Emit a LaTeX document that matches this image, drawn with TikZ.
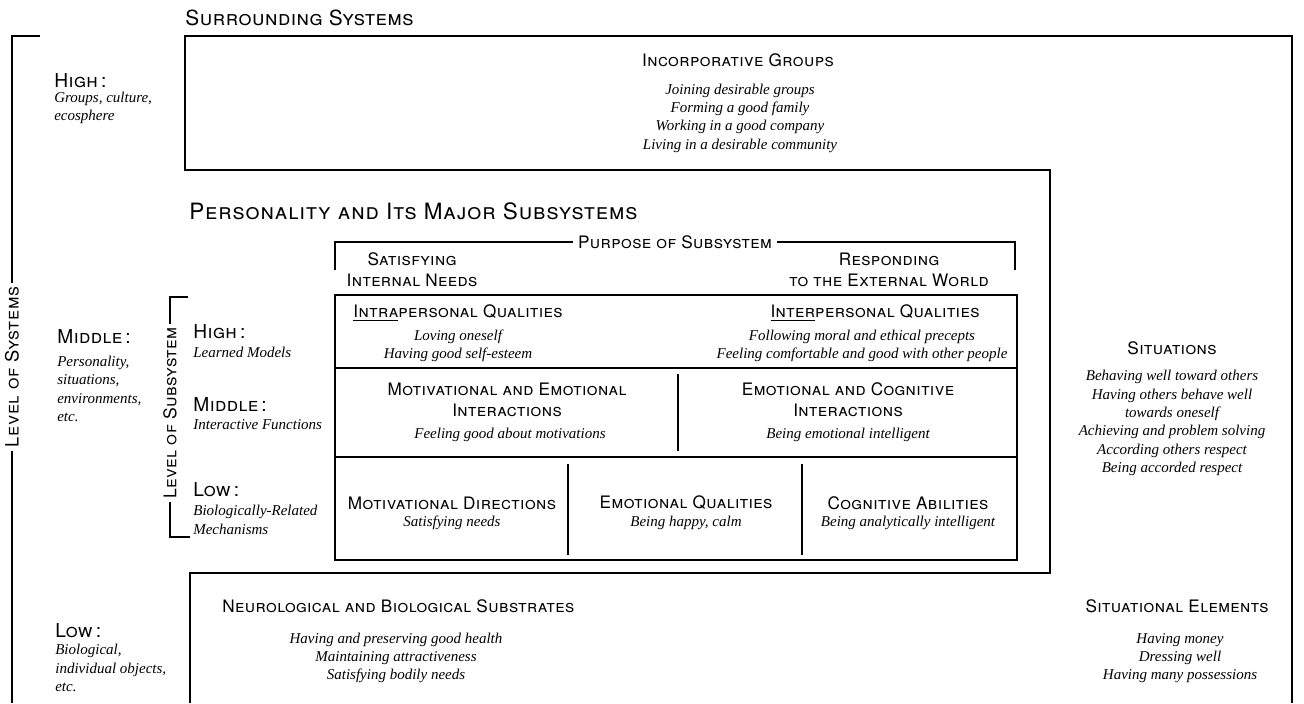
\documentclass[tikz,border=0pt]{standalone}
\usepackage{fontspec}
\newfontfamily\heros{TeX Gyre Heros}[LetterSpace=2.5]
\newfontfamily\heroswide{TeX Gyre Heros}[LetterSpace=4]
\newfontfamily\tnr{Liberation Serif}
\usepackage{tikz}
\usetikzlibrary{positioning}

\begin{document}
\begin{tikzpicture}[x = .6pt, y = -.6pt,
  frame/.style = {line width = 1.7pt},
  grid/.style = {line width = 1.2pt},
  brk/.style = {line width = .8pt},
  title/.style = {anchor = west, inner sep = 0pt, font = \heros\scshape\fontsize{12.5}{15}\selectfont},
  head/.style = {align = center, font = \heros\scshape\fontsize{10.3}{12.5}\selectfont},
  lvl/.style = {anchor = west, inner sep = 0pt, align = left, font = \heros\scshape\fontsize{11.5}{13}\selectfont},
  ital/.style = {align = center, font = \tnr\itshape\fontsize{9}{11}\selectfont},
  itl/.style = {anchor = west, inner sep = 0pt, align = left, font = \tnr\itshape\fontsize{9}{11}\selectfont},
  rot/.style = {rotate = 90, fill = white, inner sep = 2pt, font = \heroswide\scshape\fontsize{11}{13}\selectfont}]
\useasboundingbox (0,0) rectangle (1304,703);

% outer frames
\draw[frame] (190,703) -- (190,573) -- (1050,573) -- (1050,170) -- (185,170)
  -- (185,36) -- (1292,36) -- (1292,703);

% titles
\node[title] (surr) at (185,18) {Surrounding Systems};
\node[title, font = \heroswide\scshape\fontsize{13.5}{16}\selectfont] (pers) at (189,211) {Personality and Its Major Subsystems};

% level of systems
\node[rot] (lvlsys) at (12,367) {Level of Systems};
\draw[brk] (40,36) -- (12,36) -- (lvlsys.east);
\draw[brk] (lvlsys.west) -- (12,703);
\node[lvl] (hiS) at (54,81) {High\,:};
\node[itl] (hiSt) at (54,108) {Groups, culture,\\ecosphere};
\node[lvl] (midS) at (57,337) {Middle\,:};
\node[itl] (midSt) at (57,389) {Personality,\\situations,\\environments,\\etc.};
\node[lvl] (lowS) at (55,631) {Low\,:};
\node[itl] (lowSt) at (55,668) {Biological,\\individual objects,\\etc.};

% level of subsystem
\node[rot, font = \heros\scshape\fontsize{10.5}{13}\selectfont] (lvlsub) at (170,413) {Level of Subsystem};
\draw[brk] (188,297) -- (170,297) -- (lvlsub.east);
\draw[brk] (lvlsub.west) -- (170,537) -- (190,537);
\node[lvl] (hiB) at (193,332) {High\,:};
\node[itl] (hiBt) at (193,352) {Learned Models};
\node[lvl] (midB) at (193,405) {Middle\,:};
\node[itl] (midBt) at (193,425) {Interactive Functions};
\node[lvl] (lowB) at (193,490) {Low\,:};
\node[itl] (lowBt) at (193,520) {Biologically-Related\\Mechanisms};

% incorporative groups
\node[head] (incorp) at (738,60) {Incorporative Groups};
\node[ital] (incorpT) at (740,118) {Joining desirable groups\\Forming a good family\\Working in a good company\\Living in a desirable community};

% purpose of subsystem
\node[head, fill = white, inner sep = 3pt] (purp) at (675,242) {Purpose of Subsystem};
\draw[brk] (335,270) -- (335,242) -- (purp.west);
\draw[brk] (purp.east) -- (1015,242) -- (1015,270);
\node[head] (intn) at (412,270) {Satisfying\\Internal Needs};
\node[head] (extw) at (889,270) {Responding\\to the External World};

% subsystem grid
\draw[grid] (335,295) rectangle (1017,560);
\draw[grid] (335,368) -- (1017,368);
\draw[grid] (335,457) -- (1017,457);
\draw[grid] (678,374) -- (678,451);
\draw[grid] (568,464) -- (568,555);
\draw[grid] (802,464) -- (802,555);

\node[head] (intra) at (458,313) {\underline{Intra}personal Qualities};
\node[ital] (intraT) at (458,346) {Loving oneself\\Having good self-esteem};
\node[head] (inter) at (875,313) {\underline{Inter}personal Qualities};
\node[ital] (interT) at (862,346) {Following moral and ethical precepts\\Feeling comfortable and good with other people};

\node[head] (motem) at (507,400) {Motivational and Emotional\\Interactions};
\node[ital] (motemT) at (510,435) {Feeling good about motivations};
\node[head] (emcog) at (848,400) {Emotional and Cognitive\\Interactions};
\node[ital] (emcogT) at (848,435) {Being emotional intelligent};

\node[head] (motdir) at (452,503) {Motivational Directions};
\node[ital] (motdirT) at (452,523) {Satisfying needs};
\node[head] (emq) at (686,503) {Emotional Qualities};
\node[ital] (emqT) at (686,523) {Being happy, calm};
\node[head] (cog) at (908,503) {Cognitive Abilities};
\node[ital] (cogT) at (908,523) {Being analytically intelligent};

% situations
\node[head] (sit) at (1172,348) {Situations};
\node[ital] (sitT) at (1172,423) {Behaving well toward others\\Having others behave well\\towards oneself\\Achieving and problem solving\\According others respect\\Being accorded respect};

% low level
\node[head, anchor = west, inner sep = 0pt] (neuro) at (222,606) {Neurological and Biological Substrates};
\node[ital] (neuroT) at (396,658) {Having and preserving good health\\Maintaining attractiveness\\Satisfying bodily needs};
\node[head] (sitel) at (1177,606) {Situational Elements};
\node[ital] (sitelT) at (1180,658) {Having money\\Dressing well\\Having many possessions};
\end{tikzpicture}
\end{document}
